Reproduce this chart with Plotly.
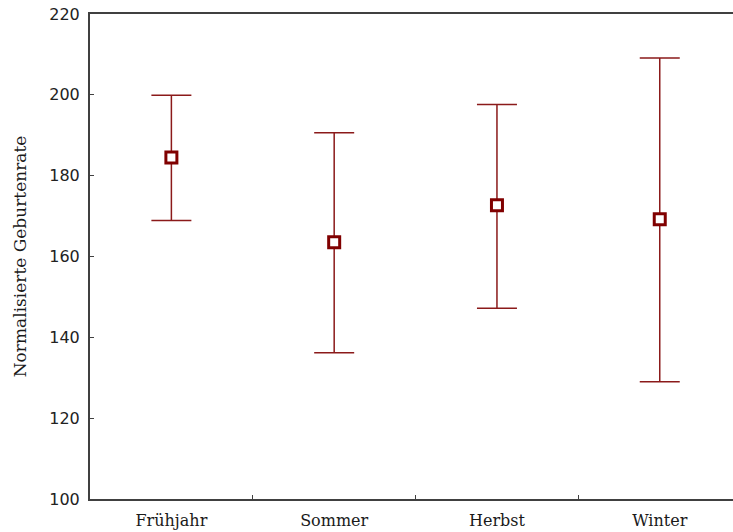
import plotly.graph_objects as go

categories = ["Frühjahr", "Sommer", "Herbst", "Winter"]
means = [184.5, 163.5, 172.7, 169.2]
upper = [199.9, 190.6, 197.6, 209.1]
lower = [168.9, 136.2, 147.2, 129.0]

err_plus = [u - m for u, m in zip(upper, means)]
err_minus = [m - l for m, l in zip(means, lower)]

color = "#8B1A1A"

fig = go.Figure(go.Scatter(
    x=categories, y=means, mode="markers",
    marker=dict(symbol="square", size=11, color="white",
                line=dict(color="#800000", width=3)),
    error_y=dict(type="data", symmetric=False, array=err_plus, arrayminus=err_minus,
                 width=20, thickness=1.5, color=color),
    showlegend=False,
))

fig.update_layout(
    width=733, height=532,
    margin=dict(l=90, r=0, t=14, b=33),
    plot_bgcolor="white", paper_bgcolor="white",
)
fig.update_xaxes(
    type="category", range=[-0.5, 3.45],
    showline=True, linecolor="#404040", linewidth=2, mirror=True,
    ticks="inside", ticklen=4, tickcolor="#404040", tickson="boundaries",
    showgrid=False, zeroline=False, ticklabelstandoff=6,
    tickfont=dict(family="DejaVu Serif, serif", size=16, color="#1a1a1a"),
)
fig.update_yaxes(
    range=[100, 220], tickvals=[100, 120, 140, 160, 180, 200, 220],
    showline=True, linecolor="#404040", linewidth=2,
    ticks="inside", ticklen=4, tickcolor="#404040",
    showgrid=False, zeroline=False, ticklabelstandoff=5,
    tickfont=dict(family="DejaVu Sans, sans-serif", size=16, color="#222"),
    title=dict(text="Normalisierte Geburtenrate", standoff=18,
               font=dict(family="DejaVu Serif, serif", size=17, color="#1a1a1a")),
)

fig.write_html("out.html")
